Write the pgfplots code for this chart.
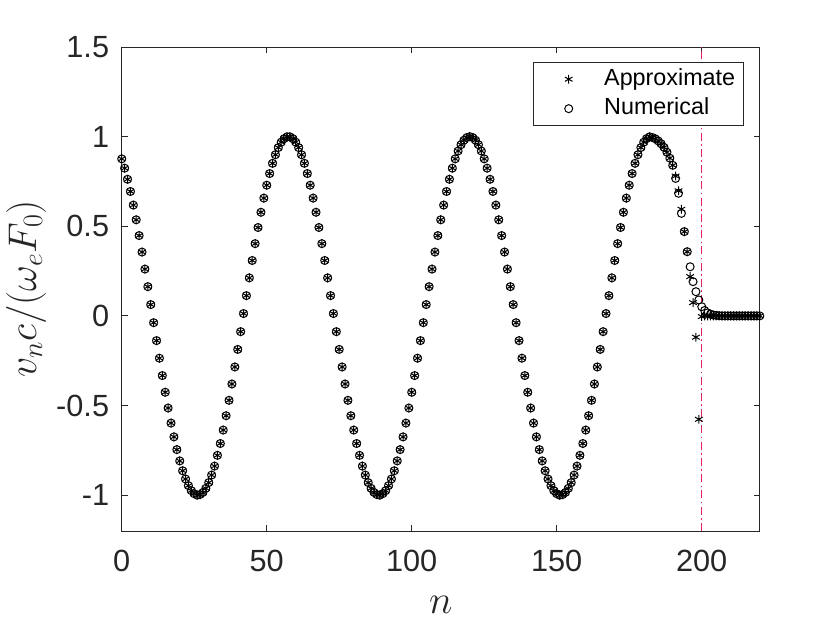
\documentclass[border=0pt]{standalone}
\usepackage{fix-cm}
\usepackage[no-math]{fontspec}
\setmainfont{Liberation Sans}
\usepackage{pgfplots}
\usepackage{pgfplotstable}
\pgfplotsset{compat=1.18}
\definecolor{axgray}{RGB}{38,38,38}
\definecolor{vlinecol}{RGB}{230,30,100}

\pgfplotstableread{
n a u
0 0.876 0.876
1 0.824 0.824
2 0.762 0.762
3 0.694 0.694
4 0.618 0.618
5 0.536 0.536
6 0.448 0.448
7 0.356 0.356
8 0.261 0.261
9 0.163 0.163
10 0.063 0.063
11 -0.038 -0.038
12 -0.138 -0.138
13 -0.236 -0.236
14 -0.333 -0.333
15 -0.426 -0.426
16 -0.514 -0.514
17 -0.598 -0.598
18 -0.675 -0.675
19 -0.746 -0.746
20 -0.809 -0.809
21 -0.864 -0.864
22 -0.910 -0.910
23 -0.947 -0.947
24 -0.975 -0.975
25 -0.992 -0.992
26 -1.000 -1.000
27 -0.997 -0.997
28 -0.985 -0.985
29 -0.962 -0.962
30 -0.930 -0.930
31 -0.888 -0.888
32 -0.838 -0.838
33 -0.778 -0.778
34 -0.712 -0.712
35 -0.637 -0.637
36 -0.557 -0.557
37 -0.471 -0.471
38 -0.380 -0.380
39 -0.285 -0.285
40 -0.187 -0.187
41 -0.088 -0.088
42 0.013 0.013
43 0.113 0.113
44 0.212 0.212
45 0.309 0.309
46 0.403 0.403
47 0.493 0.493
48 0.578 0.578
49 0.657 0.657
50 0.729 0.729
51 0.794 0.794
52 0.851 0.851
53 0.899 0.899
54 0.939 0.939
55 0.969 0.969
56 0.989 0.989
57 0.999 0.999
58 0.999 0.999
59 0.989 0.989
60 0.969 0.969
61 0.939 0.939
62 0.899 0.899
63 0.851 0.851
64 0.794 0.794
65 0.729 0.729
66 0.657 0.657
67 0.578 0.578
68 0.493 0.493
69 0.403 0.403
70 0.309 0.309
71 0.212 0.212
72 0.113 0.113
73 0.013 0.013
74 -0.088 -0.088
75 -0.187 -0.187
76 -0.285 -0.285
77 -0.380 -0.380
78 -0.471 -0.471
79 -0.557 -0.557
80 -0.637 -0.637
81 -0.712 -0.712
82 -0.778 -0.778
83 -0.838 -0.838
84 -0.888 -0.888
85 -0.930 -0.930
86 -0.962 -0.962
87 -0.985 -0.985
88 -0.997 -0.997
89 -1.000 -1.000
90 -0.992 -0.992
91 -0.975 -0.975
92 -0.947 -0.947
93 -0.910 -0.910
94 -0.864 -0.864
95 -0.809 -0.809
96 -0.746 -0.746
97 -0.675 -0.675
98 -0.598 -0.598
99 -0.514 -0.514
100 -0.426 -0.426
101 -0.333 -0.333
102 -0.236 -0.236
103 -0.138 -0.138
104 -0.038 -0.038
105 0.063 0.063
106 0.163 0.163
107 0.261 0.261
108 0.356 0.356
109 0.448 0.448
110 0.536 0.536
111 0.618 0.618
112 0.694 0.694
113 0.762 0.762
114 0.824 0.824
115 0.876 0.876
116 0.920 0.920
117 0.955 0.955
118 0.980 0.980
119 0.995 0.995
120 1.000 1.000
121 0.995 0.995
122 0.980 0.980
123 0.955 0.955
124 0.920 0.920
125 0.876 0.876
126 0.824 0.824
127 0.762 0.762
128 0.694 0.694
129 0.618 0.618
130 0.536 0.536
131 0.448 0.448
132 0.356 0.356
133 0.261 0.261
134 0.163 0.163
135 0.063 0.063
136 -0.038 -0.038
137 -0.138 -0.138
138 -0.236 -0.236
139 -0.333 -0.333
140 -0.426 -0.426
141 -0.514 -0.514
142 -0.598 -0.598
143 -0.675 -0.675
144 -0.746 -0.746
145 -0.809 -0.809
146 -0.864 -0.864
147 -0.910 -0.910
148 -0.947 -0.947
149 -0.975 -0.975
150 -0.992 -0.992
151 -1.000 -1.000
152 -0.997 -0.997
153 -0.985 -0.985
154 -0.962 -0.962
155 -0.930 -0.930
156 -0.888 -0.888
157 -0.838 -0.838
158 -0.778 -0.778
159 -0.712 -0.712
160 -0.637 -0.637
161 -0.557 -0.557
162 -0.471 -0.471
163 -0.380 -0.380
164 -0.285 -0.285
165 -0.187 -0.187
166 -0.088 -0.088
167 0.013 0.013
168 0.113 0.113
169 0.212 0.212
170 0.309 0.309
171 0.403 0.403
172 0.493 0.493
173 0.578 0.578
174 0.657 0.657
175 0.729 0.729
176 0.794 0.794
177 0.851 0.851
178 0.899 0.899
179 0.939 0.939
180 0.969 0.969
181 0.989 0.989
182 0.999 0.999
183 0.995 0.995
184 0.988 0.988
185 0.976 0.976
186 0.960 0.960
187 0.940 0.940
188 0.913 0.913
189 0.880 0.880
190 0.840 0.840
191 0.780 0.767
192 0.698 0.684
193 0.595 0.572
194 0.470 0.470
195 0.358 0.358
196 0.219 0.274
197 0.074 0.191
198 -0.119 0.135
199 -0.577 0.089
200 -0.004 0.051
201 0 0.030
202 0 0.017
203 0 0.010
204 0 0.005
205 0 0.003
206 0 0.001
207 0 0
208 0 0
209 0 0
210 0 0
211 0 0
212 0 0
213 0 0
214 0 0
215 0 0
216 0 0
217 0 0
218 0 0
219 0 0
220 0 0
}\datatable

\begin{document}
\begin{tikzpicture}
\path[use as bounding box] (-91.3pt,-74.25pt) rectangle (538.7pt,398.25pt);
\begin{axis}[
  scale only axis,
  width=478.5pt, height=363pt,
  xmin=0, xmax=220, ymin=-1.2, ymax=1.5,
  xtick={0,50,100,150,200},
  xticklabels={0,50,100,150,200},
  ytick={-1,-0.5,0,0.5,1,1.5},
  yticklabels={-1,-0.5,0,0.5,1,1.5},
  tick align=inside, tick pos=both, major tick length=4.5pt,
  axis line style={line width=0.6pt, draw=axgray},
  every tick/.style={line width=0.6pt, draw=axgray},
  ticklabel style={font=\fontsize{23}{25}\selectfont, text=axgray, inner sep=0pt},
  xticklabel style={anchor=north, yshift=-14.2pt},
  yticklabel style={anchor=east, xshift=-9.3pt},
  xlabel={$n$}, ylabel={$v_n c/(\omega_e F_0)$},
  label style={font=\fontsize{30}{33}\selectfont, text=axgray, inner sep=0pt},
  xlabel style={at={(axis description cs:0.5,-0.1529)}, anchor=center},
  ylabel style={at={(axis description cs:-0.150,0.5)}, anchor=center},
  legend cell align=left,
  legend image code/.code={\path (0pt,0pt) (46.7pt,0pt);
     \draw[mark repeat=2,mark phase=2,#1] plot coordinates {(0pt,0pt) (26.25pt,0pt) (46.7pt,0pt)};},
  legend style={at={(1,1)}, anchor=north east, xshift=-12.3pt, yshift=-11.5pt,
     draw=axgray, line width=0.6pt, fill=white,
     font=\fontsize{17.5}{20}\selectfont,
     inner xsep=0pt, inner ysep=4.2pt, row sep=5.8pt,
     nodes={inner xsep=5.8pt, inner ysep=0pt, text height=12.6pt, text depth=3.7pt}},
]
\addplot[only marks, mark=asterisk, mark size=3.3pt, black, line width=0.75pt] table[x=n, y=a]{\datatable};
\addlegendentry{Approximate}
\addplot[only marks, mark=o, mark size=3pt, black, line width=0.75pt] table[x=n, y=u]{\datatable};
\addlegendentry{Numerical}
\addplot[forget plot, color=vlinecol, line width=0.8pt, dash pattern=on 6pt off 2.5pt on 1.2pt off 2.5pt] coordinates {(200,-1.2) (200,1.5)};
\end{axis}
\end{tikzpicture}
\end{document}
